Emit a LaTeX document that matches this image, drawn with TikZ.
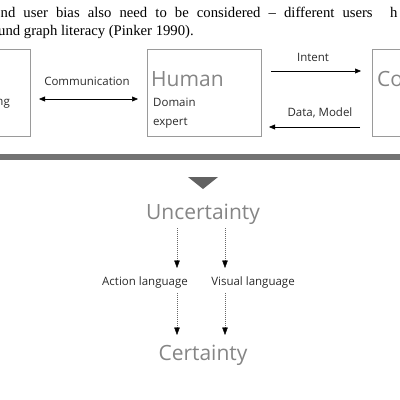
\documentclass[tikz,border=0pt]{standalone}
\usepackage{fontspec}
\setmainfont{Liberation Serif}
\newfontfamily\diag{Open Sans}
\usetikzlibrary{arrows.meta}
\definecolor{boxgray}{HTML}{9A9A9A}
\definecolor{txtdark}{HTML}{2A2A2A}
\definecolor{txtlight}{HTML}{858585}
\definecolor{bargray}{HTML}{737373}
\tikzset{
  box/.style={draw=boxgray, line width=0.6pt},
  lbl/.style={font=\diag\fontsize{11.5}{13}\selectfont, text=txtdark, inner sep=0pt},
  big/.style={font=\diag\fontsize{21}{24}\selectfont, text=txtlight, inner sep=0pt},
  body/.style={font=\fontsize{14.7}{17}\selectfont, inner sep=0pt},
  arr/.style={draw=black, line width=0.5pt, -{Triangle[length=6pt,width=5pt]}},
  darr/.style={draw=black, line width=0.5pt, {Triangle[length=6pt,width=5pt]}-{Triangle[length=6pt,width=5pt]}},
  dotarr/.style={draw=black!60, line width=0.4pt, dash pattern=on 1pt off 1pt, -{Triangle[length=7.5pt,width=5.5pt,color=black,fill=black]}},
}
\begin{document}
\begin{tikzpicture}[x=1pt,y=-1pt]
\useasboundingbox (0,0) rectangle (400,400);
% top text
\node[body, anchor=base west] (t1) at (0.5,17) {\makebox[372pt][s]{nd user bias also need to be considered -- different users}};
\node[body, anchor=base west] (t1b) at (390,17) {h};
\node[body, anchor=base west] (t2) at (-2,35) {und graph literacy (Pinker 1990).};
% boxes
\node[box, minimum width=60pt, minimum height=87pt, inner sep=0pt] (lb) at (0,92.5) {};
\node[lbl, anchor=base east] (ng) at (10,105) {ng};
\node[box, minimum width=114pt, minimum height=87pt, inner sep=0pt] (hb) at (204,92.5) {};
\node[big, anchor=base west] (human) at (151,86) {Human};
\node[lbl, anchor=base west] (dom) at (153,106) {Domain};
\node[lbl, anchor=base west] (exp) at (153,125) {expert};
\node[box, minimum width=60pt, minimum height=87pt, inner sep=0pt] (rb) at (402,92.5) {};
\node[big, anchor=base west] (co) at (377,86) {Co};
% connectors
\coordinate (c1) at (39,99);
\coordinate (c2) at (138,99);
\draw[darr] (c1) -- (c2);
\node[lbl, anchor=base] (comm) at (87,85) {Communication};
\coordinate (i1) at (271,71);
\coordinate (i2) at (361,71);
\draw[arr] (i1) -- (i2);
\node[lbl, anchor=base] (intent) at (313,61) {Intent};
\coordinate (d1) at (360,127);
\coordinate (d2) at (269,127);
\draw[arr] (d1) -- (d2);
\node[lbl, anchor=base] (dm) at (320,116) {Data, Model};
% bar
\fill[bargray] (0,154) rectangle (400,160);
\fill[bargray!85!black] (188,177) -- (218,177) -- (203,189) -- cycle;
% lower
\node[big, anchor=base] (unc) at (203,219) {Uncertainty};
\node[lbl, anchor=base] (al) at (145,285) {Action language};
\node[lbl, anchor=base] (vl) at (253,285) {Visual language};
\node[big, anchor=base] (cert) at (203,360) {Certainty};
\coordinate (a1) at (177,228);
\coordinate (a2) at (177,268);
\coordinate (b1) at (225,228);
\coordinate (b2) at (225,268);
\coordinate (a3) at (177,293);
\coordinate (a4) at (177,335);
\coordinate (b3) at (225,293);
\coordinate (b4) at (225,335);
\draw[dotarr] (a1) -- (a2);
\draw[dotarr] (b1) -- (b2);
\draw[dotarr] (a3) -- (a4);
\draw[dotarr] (b3) -- (b4);
\end{tikzpicture}
\end{document}
